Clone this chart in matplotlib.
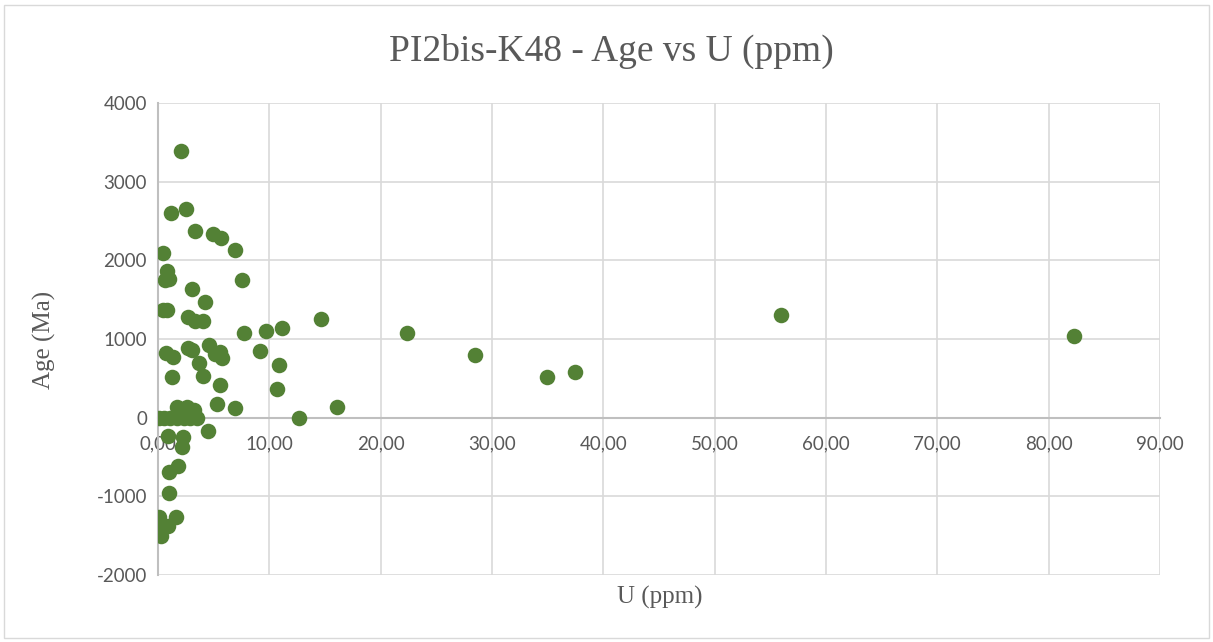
import matplotlib
matplotlib.use("Agg")
import matplotlib.pyplot as plt
from matplotlib.ticker import FuncFormatter, MultipleLocator
from matplotlib.patches import Rectangle

title = "PI2bis-K48 - Age vs U (ppm)"
x_label = "U (ppm)"
y_label = "Age (Ma)"

u_ppm = [2.07, 1.17, 2.49, 3.35, 4.97, 5.69, 6.95, 0.48, 0.78, 0.65, 0.95, 7.55,
         3.02, 4.25, 0.42, 0.78, 2.72, 3.32, 4.07, 14.64, 7.70, 9.70, 11.14, 4.61,
         2.65, 3.02, 0.69, 1.38, 5.12, 5.57, 5.72, 9.16, 3.68, 10.90, 1.23, 4.01,
         5.53, 10.66, 5.27, 6.92, 16.05, 1.68, 2.57, 3.26, 0.05, 0.50, 1.10, 1.70,
         2.30, 2.90, 3.50, 12.66, 4.46, 0.87, 2.27, 2.13, 1.83, 1.01, 1.01, 0.12,
         1.62, 0.03, 0.48, 0.93, 0.24, 22.37, 28.47, 34.94, 37.46, 55.96, 82.28]
age_ma = [3385, 2602, 2648, 2368, 2339, 2284, 2135, 2088, 1868, 1750, 1760, 1750,
          1640, 1474, 1373, 1373, 1284, 1224, 1224, 1254, 1080, 1106, 1140, 928,
          886, 860, 817, 775, 810, 830, 759, 852, 690, 674, 512, 525,
          415, 364, 174, 120, 131, 131, 140, 98, 0, 0, 0, 0,
          0, 0, 0, 0, -174, -229, -250, -377, -610, -695, -962, -1267,
          -1258, -1373, -1394, -1373, -1500, 1080, 801, 521, 585, 1309, 1042]

fig = plt.figure(figsize=(12.13, 6.42), dpi=100)
ax = fig.add_axes([0.1303, 0.1044, 0.8260, 0.7352])

ax.scatter(u_ppm, age_ma, s=125, color="#538135", zorder=3, linewidths=0)

ax.set_xlim(0, 90)
ax.set_ylim(-2000, 4000)
ax.xaxis.set_major_locator(MultipleLocator(10))
ax.yaxis.set_major_locator(MultipleLocator(1000))
ax.xaxis.set_major_formatter(FuncFormatter(lambda v, p: f"{v:.2f}".replace(".", ",")))
ax.yaxis.set_major_formatter(FuncFormatter(lambda v, p: f"{int(v)}"))

ax.grid(True, color="#d9d9d9", linewidth=1.2, zorder=0)
ax.set_axisbelow(True)
for s in ["top", "right"]:
    ax.spines[s].set_visible(False)
ax.spines["bottom"].set_position(("data", 0))
ax.spines["bottom"].set_color("#bfbfbf")
ax.spines["bottom"].set_linewidth(1.5)
ax.spines["left"].set_color("#bfbfbf")
ax.spines["left"].set_linewidth(1.5)
ax.tick_params(axis="y", length=0, labelsize=13.5, labelcolor="#595959", pad=8)
ax.tick_params(axis="x", length=0, labelsize=13.5, labelcolor="#595959", pad=13)
for lab in ax.get_xticklabels() + ax.get_yticklabels():
    lab.set_family("Lato")

fig.text(0.504, 0.920, title, ha="center", va="center", fontsize=27,
         color="#595959", family="Liberation Serif")
fig.text(0.544, 0.070, x_label, ha="center", va="center", fontsize=18,
         color="#595959", family="Liberation Serif")
fig.text(0.037, 0.470, y_label, ha="center", va="center", fontsize=18,
         color="#595959", family="Liberation Serif", rotation=90)

fig.patches.append(Rectangle((0.003, 0.006), 0.994, 0.986, transform=fig.transFigure,
                             fill=False, edgecolor="#d9d9d9", linewidth=1))

fig.savefig("out.png", dpi=100, facecolor="white")
